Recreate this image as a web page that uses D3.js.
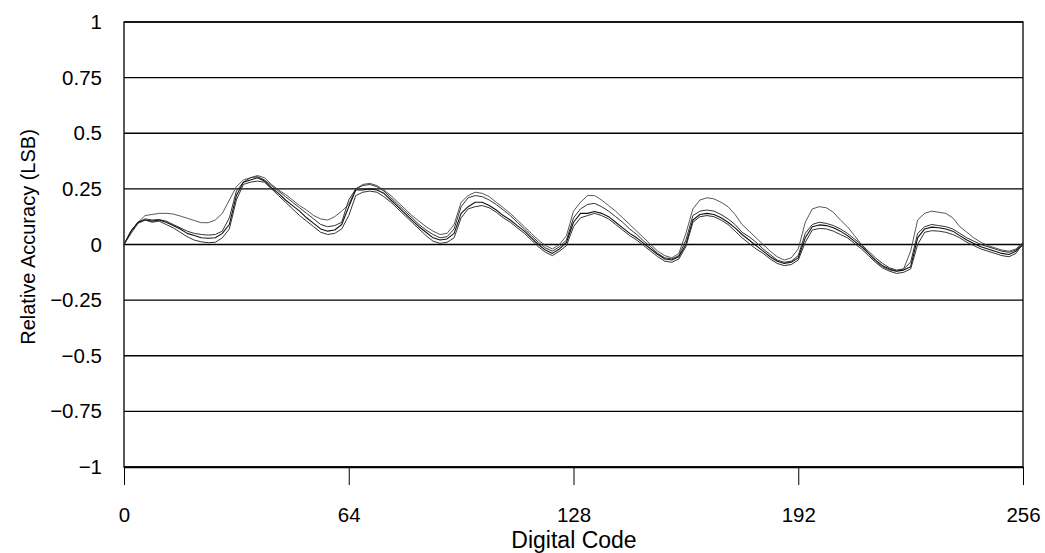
<!DOCTYPE html>
<html>
<head>
<meta charset="utf-8">
<script src="https://cdn.jsdelivr.net/npm/d3@7"></script>
<style>
  html, body { margin: 0; padding: 0; background: #fff; }
  svg { display: block; }
  text { font-family: Arial, "Liberation Sans", sans-serif; fill: #000; }
</style>
</head>
<body>
<svg id="chart" width="1045" height="553"></svg>
<script>
// ---- data ----
const codes = d3.range(0, 257, 2);

const seriesA = [
  0.0, 0.06, 0.10, 0.13, 0.135, 0.14, 0.14, 0.137, 0.128, 0.118, 0.108, 0.098, 0.098, 0.11, 0.14, 0.2, 0.26,
  0.29, 0.30, 0.31, 0.30, 0.27, 0.245, 0.225, 0.2, 0.175, 0.155, 0.13, 0.115, 0.11, 0.125, 0.15, 0.18, 0.25,
  0.27, 0.275, 0.265, 0.245, 0.22, 0.19, 0.16, 0.13, 0.105, 0.08, 0.06, 0.045, 0.05, 0.09, 0.19, 0.22,
  0.235, 0.23, 0.215, 0.19, 0.165, 0.14, 0.11, 0.08, 0.05, 0.02, -0.005, -0.02, 0.0, 0.04, 0.15, 0.19,
  0.22, 0.22, 0.2, 0.175, 0.15, 0.12, 0.09, 0.06, 0.03, 0.0, -0.03, -0.05, -0.06, -0.04, 0.05, 0.16,
  0.2, 0.21, 0.205, 0.19, 0.17, 0.135, 0.09, 0.06, 0.03, 0.0, -0.03, -0.055, -0.07, -0.06, -0.02, 0.1,
  0.16, 0.17, 0.165, 0.145, 0.11, 0.08, 0.04, 0.0, -0.04, -0.075, -0.1, -0.115, -0.12, -0.11, -0.03, 0.11,
  0.14, 0.15, 0.145, 0.14, 0.12, 0.08, 0.055, 0.03, 0.01, -0.005, -0.015, -0.025, -0.03, -0.02, 0.01
];

const seriesB = [
  0.0, 0.06, 0.10, 0.115, 0.11, 0.112, 0.105, 0.09, 0.075, 0.06, 0.05, 0.045, 0.042, 0.045, 0.06, 0.12, 0.24,
  0.28, 0.30, 0.305, 0.29, 0.265, 0.24, 0.215, 0.19, 0.165, 0.14, 0.115, 0.09, 0.08, 0.085, 0.1, 0.2, 0.25,
  0.265, 0.27, 0.26, 0.24, 0.21, 0.18, 0.15, 0.12, 0.09, 0.065, 0.045, 0.03, 0.035, 0.07, 0.17, 0.21,
  0.22, 0.215, 0.2, 0.18, 0.155, 0.13, 0.1, 0.07, 0.04, 0.01, -0.015, -0.03, -0.01, 0.02, 0.12, 0.16,
  0.18, 0.185, 0.17, 0.15, 0.125, 0.1, 0.07, 0.045, 0.015, -0.01, -0.04, -0.06, -0.065, -0.05, 0.02, 0.13,
  0.15, 0.155, 0.15, 0.135, 0.115, 0.09, 0.055, 0.035, 0.01, -0.02, -0.045, -0.07, -0.08, -0.075, -0.05, 0.05,
  0.09, 0.1, 0.095, 0.085, 0.07, 0.05, 0.025, 0.0, -0.03, -0.06, -0.085, -0.105, -0.115, -0.11, -0.08, 0.05,
  0.08, 0.09, 0.085, 0.08, 0.07, 0.05, 0.03, 0.015, 0.0, -0.01, -0.02, -0.03, -0.035, -0.025, 0.005
];

const seriesC = [
  0.0, 0.06, 0.10, 0.11, 0.105, 0.11, 0.10, 0.085, 0.07, 0.05, 0.04, 0.03, 0.028, 0.03, 0.05, 0.09, 0.22,
  0.28, 0.29, 0.30, 0.285, 0.255, 0.23, 0.2, 0.175, 0.15, 0.12, 0.095, 0.07, 0.06, 0.065, 0.09, 0.17, 0.245,
  0.245, 0.25, 0.245, 0.23, 0.2, 0.17, 0.14, 0.11, 0.08, 0.055, 0.03, 0.02, 0.025, 0.05, 0.14, 0.17,
  0.19, 0.19, 0.175, 0.155, 0.13, 0.11, 0.085, 0.06, 0.03, 0.0, -0.025, -0.04, -0.02, 0.01, 0.1, 0.14,
  0.14, 0.148, 0.14, 0.125, 0.1, 0.075, 0.05, 0.03, 0.005, -0.02, -0.045, -0.065, -0.07, -0.055, 0.0, 0.11,
  0.135, 0.14, 0.135, 0.12, 0.1, 0.075, 0.045, 0.02, -0.005, -0.03, -0.055, -0.075, -0.085, -0.08, -0.06, 0.03,
  0.08, 0.088, 0.085, 0.075, 0.06, 0.04, 0.015, -0.01, -0.04, -0.07, -0.095, -0.11, -0.12, -0.115, -0.1, 0.03,
  0.07, 0.078, 0.075, 0.07, 0.06, 0.04, 0.02, 0.005, -0.01, -0.02, -0.03, -0.04, -0.045, -0.03, 0.0
];

const seriesD = [
  0.0, 0.05, 0.095, 0.11, 0.10, 0.105, 0.09, 0.075, 0.055, 0.035, 0.02, 0.012, 0.008, 0.01, 0.03, 0.07, 0.2,
  0.27, 0.28, 0.285, 0.28, 0.25, 0.22, 0.19, 0.16, 0.13, 0.105, 0.08, 0.055, 0.045, 0.05, 0.07, 0.13, 0.22,
  0.235, 0.24, 0.235, 0.215, 0.19, 0.16, 0.13, 0.1, 0.07, 0.04, 0.015, 0.005, 0.01, 0.03, 0.12, 0.16,
  0.17, 0.175, 0.165, 0.145, 0.12, 0.1, 0.075, 0.05, 0.02, -0.01, -0.035, -0.05, -0.03, -0.005, 0.08, 0.12,
  0.13, 0.14, 0.13, 0.115, 0.09, 0.065, 0.04, 0.02, -0.005, -0.03, -0.055, -0.075, -0.08, -0.065, -0.01, 0.1,
  0.125, 0.13, 0.125, 0.11, 0.09, 0.06, 0.03, 0.005, -0.02, -0.04, -0.065, -0.085, -0.095, -0.09, -0.07, 0.01,
  0.065, 0.072, 0.07, 0.06, 0.045, 0.03, 0.005, -0.02, -0.05, -0.08, -0.105, -0.12, -0.13, -0.125, -0.11, 0.0,
  0.055, 0.062, 0.06, 0.055, 0.045, 0.03, 0.01, -0.005, -0.02, -0.03, -0.04, -0.05, -0.055, -0.04, 0.005
];

const xTicks = [0, 64, 128, 192, 256];
const yTicks = [1, 0.75, 0.5, 0.25, 0, -0.25, -0.5, -0.75, -1];
const yTickLabels = ["1", "0.75", "0.5", "0.25", "0", "\u22120.25", "\u22120.5", "\u22120.75", "\u22121"];
const xTitle = "Digital Code";
const yTitle = "Relative Accuracy (LSB)";

// ---- drawing ----
const svg = d3.select("#chart");
const mLeft = 124, mRight = 1023, mTop = 22, mBottom = 467;
const fontFam = "Arial, 'Liberation Sans', sans-serif";

const x = d3.scaleLinear().domain([0, 256]).range([mLeft, mRight]);
const y = d3.scaleLinear().domain([-1, 1]).range([mBottom, mTop]);

// horizontal gridlines
svg.append("g").selectAll("line").data(yTicks).join("line")
  .attr("x1", mLeft).attr("x2", mRight)
  .attr("y1", d => y(d)).attr("y2", d => y(d))
  .attr("stroke", "#000").attr("stroke-width", 1.3);

// frame
svg.append("rect")
  .attr("x", mLeft).attr("y", mTop)
  .attr("width", mRight - mLeft).attr("height", mBottom - mTop)
  .attr("fill", "none").attr("stroke", "#000").attr("stroke-width", 1.3);

// x axis
const xAxis = d3.axisBottom(x).tickValues(xTicks).tickSizeOuter(0).tickSizeInner(18).tickPadding(10)
  .tickFormat(d3.format("d"));
const gx = svg.append("g").attr("transform", `translate(0,${mBottom})`).call(xAxis);
gx.select(".domain").attr("stroke", "#000").attr("stroke-width", 1.3);
gx.selectAll(".tick line").attr("stroke", "#000").attr("stroke-width", 1);
gx.selectAll(".tick text").attr("font-size", 20.5).attr("font-family", fontFam).attr("dy", "1.32em");

// y axis labels
const yAxis = d3.axisLeft(y).tickValues(yTicks).tickSize(0).tickPadding(22)
  .tickFormat((d, i) => yTickLabels[i]);
const gy = svg.append("g").attr("transform", `translate(${mLeft},0)`).call(yAxis);
gy.select(".domain").remove();
gy.selectAll(".tick text").attr("font-size", 20.5).attr("font-family", fontFam);

// curves
const line = d3.line().x((d, i) => x(codes[i])).y(d => y(d));
const allSeries = [
  { vals: seriesA, color: "#444", w: 0.9 },
  { vals: seriesB, color: "#333", w: 1.0 },
  { vals: seriesC, color: "#111", w: 1.1 },
  { vals: seriesD, color: "#333", w: 1.0 }
];
svg.append("g").selectAll("path").data(allSeries).join("path")
  .attr("d", d => line(d.vals))
  .attr("fill", "none")
  .attr("stroke", d => d.color)
  .attr("stroke-width", d => d.w)
  .attr("stroke-linejoin", "round");

// titles
svg.append("text")
  .attr("x", 574).attr("y", 548)
  .attr("text-anchor", "middle").attr("font-size", 23)
  .text(xTitle);

svg.append("text")
  .attr("transform", "translate(35,237) rotate(-90)")
  .attr("text-anchor", "middle").attr("font-size", 20)
  .text(yTitle);
</script>
</body>
</html>
